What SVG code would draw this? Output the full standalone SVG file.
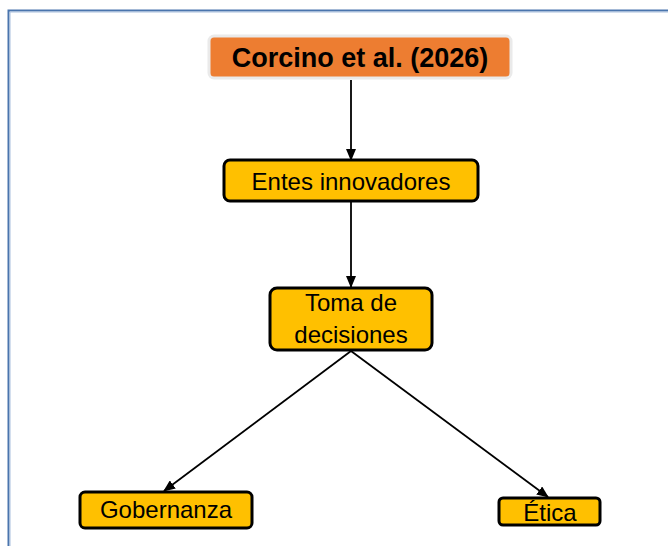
<svg xmlns="http://www.w3.org/2000/svg" width="668" height="546" viewBox="0 0 668 546">
<defs>
<style>
.node{fill:#FFC000;stroke:#000;stroke-width:3}
.t{font-family:"Liberation Sans",Arial,sans-serif;font-size:24px;fill:#000;text-anchor:middle}
.c{stroke:#000;stroke-width:1.8;fill:none;marker-end:url(#ah)}
</style>
<marker id="ah" viewBox="0 0 12 10" refX="11" refY="5" markerWidth="12" markerHeight="10" orient="auto" markerUnits="userSpaceOnUse"><path d="M0,0 L12,5 L0,10 z" fill="#000"/></marker>
</defs>
<rect width="668" height="546" fill="#fff"/>
<path d="M8.5,546 V10.5 H668" fill="none" stroke="#4A75AD" stroke-width="2"/>
<path d="M10,546 V12 H668" fill="none" stroke="#A9BFDD" stroke-width="1"/>
<g id="connectors">
<line class="c" x1="351" y1="80" x2="351" y2="160"/>
<line class="c" x1="351" y1="202" x2="351" y2="287"/>
<line class="c" x1="351" y1="351" x2="164" y2="491"/>
<line class="c" x1="351" y1="351" x2="548" y2="497"/>
</g>
<g id="n-corcino">
<rect x="209" y="36" width="302" height="42" rx="5" fill="#ED7D31" stroke="#EAEAEA" stroke-width="3"/>
<text class="t" x="360" y="67" style="font-size:27px;font-weight:bold">Corcino et al. (2026)</text>
</g>
<g id="n-entes">
<rect class="node" x="224" y="160" width="254" height="41" rx="6"/>
<text class="t" x="351" y="190">Entes innovadores</text>
</g>
<g id="n-toma">
<rect class="node" x="270" y="288" width="162" height="62" rx="7"/>
<text class="t" x="351" y="311">Toma de</text>
<text class="t" x="351" y="343">decisiones</text>
</g>
<g id="n-gob">
<rect class="node" x="80" y="492" width="172" height="36" rx="5"/>
<text class="t" x="166" y="518">Gobernanza</text>
</g>
<g id="n-etica">
<rect class="node" x="499" y="498" width="101" height="27" rx="4"/>
<text class="t" x="550" y="521">Ética</text>
</g>
</svg>
